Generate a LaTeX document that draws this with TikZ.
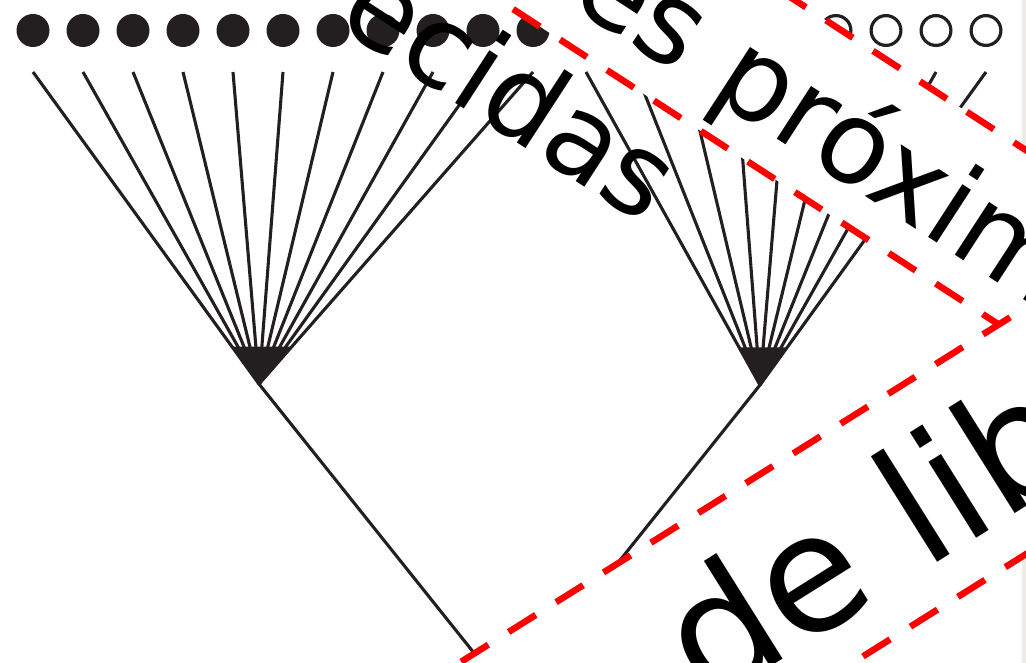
\documentclass[tikz,border=0pt]{standalone}
\usepackage{fontspec}
\setmainfont{DejaVu Sans}
\usetikzlibrary{calc}
\definecolor{treeink}{RGB}{35,31,32}
\definecolor{edgegray}{RGB}{238,236,228}

\begin{document}
\begin{tikzpicture}[
  x=1pt, y=-1pt,
  leaf/.style={circle, inner sep=0pt, minimum size=33pt, fill=treeink},
  openleaf/.style={circle, inner sep=0pt, minimum size=29.8pt, draw=treeink,
                   line width=3.2pt, fill=white},
  branch/.style={treeink, line width=3.1pt},
  boxedge/.style={red, line width=6.5pt, dash pattern=on 32pt off 24pt},
  lbltext/.style={inner sep=0pt, anchor=base west, transform shape,
                  font=\fontsize{115}{138}\selectfont}
]
\useasboundingbox (0,0) rectangle (1026,663);
\clip (0,0) rectangle (1026,663);
\fill[edgegray] (1021.5,0) rectangle (1026,663);

% leaves
\foreach \i in {0,...,10} {
  \node[leaf] (fl\i) at (33+50*\i,30.5) {};
  \coordinate (ft\i) at (33+50*\i,72);
}
\foreach \j in {0,...,8} {
  \node[openleaf] (ol\j) at (586+50*\j,30.5) {};
  \coordinate (ot\j) at (586+50*\j,72);
}
\coordinate (lnode) at (259,384);
\coordinate (rnode) at (760,385);
\coordinate (root) at (510,698);

\foreach \i in {0,...,10} \draw[branch] (ft\i) -- (lnode);
\foreach \j in {0,...,8} \draw[branch] (ot\j) -- (rnode);
\fill[treeink] (lnode) -- ($(lnode)!0.12!(ft0)$) -- ($(lnode)!0.12!(ft10)$) -- cycle;
\fill[treeink] (rnode) -- ($(rnode)!0.12!(ot0)$) -- ($(rnode)!0.12!(ot8)$) -- cycle;
\draw[branch] (lnode) -- (root) -- (rnode);

\node[lbltext, rotate=-33] (parec) at (334,24) {ecidas};

\begin{scope}[shift={(567,3)}, rotate=-33]
  \fill[white] (-900,-126.5) -- (900,-126.5) -- (900,34.5) -- (-900,34.5) -- cycle;
  \draw[boxedge] (-837.3,-126.5) -- (900,-126.5);
  \draw[boxedge] (-825.9,34.5) -- (900,34.5);
  \node[lbltext] (proxim) at (0,0) {es próxim};
\end{scope}

\begin{scope}[shift={(707,707)}, rotate=32.1]
  \fill[white] (-900,-169) -- (900,-169) -- (900,40) -- (-900,40) -- cycle;
  \draw[boxedge] (-800.2,-169) -- (900,-169);
  \draw[boxedge] (-793,40) -- (900,40);
  \node[lbltext, font=\fontsize{164}{197}\selectfont] (libert) at (0,0) {de lib};
\end{scope}
\end{tikzpicture}
\end{document}
